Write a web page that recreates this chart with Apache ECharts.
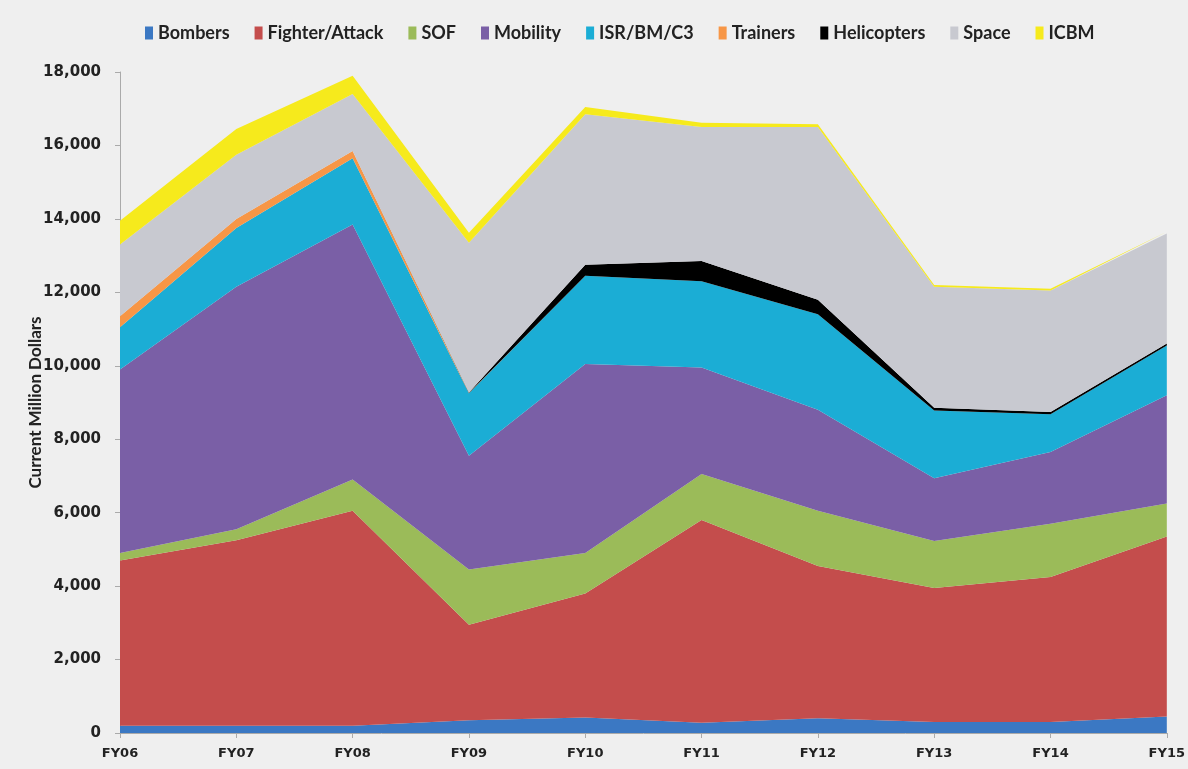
<!DOCTYPE html>
<html>
<head>
<meta charset="utf-8">
<script src="https://cdn.jsdelivr.net/npm/echarts@6/dist/echarts.min.js"></script>
<style>
html,body{margin:0;padding:0;background:#efefef;}
#chart{width:1188px;height:769px;}
</style>
</head>
<body>
<div id="chart"></div>
<script>
const categories = ['FY06','FY07','FY08','FY09','FY10','FY11','FY12','FY13','FY14','FY15'];
const bombers     = [200, 200, 200, 350, 420, 280, 400, 300, 300, 450];
const fighter     = [4500, 5050, 5850, 2600, 3380, 5520, 4150, 3650, 3950, 4900];
const sof         = [200, 300, 850, 1500, 1100, 1250, 1500, 1280, 1450, 900];
const mobility    = [5000, 6600, 6950, 3100, 5150, 2900, 2750, 1710, 1950, 2950];
const isr         = [1150, 1600, 1800, 1700, 2400, 2350, 2600, 1840, 1030, 1350];
const trainers    = [300, 250, 200, 10, 0, 0, 0, 0, 0, 0];
const helicopters = [0, 0, 0, 10, 300, 550, 400, 80, 60, 60];
const space       = [1950, 1750, 1550, 4080, 4100, 3650, 4700, 3290, 3310, 2990];
const icbm        = [650, 700, 500, 270, 200, 120, 80, 50, 50, 50];
const yTicks = {min: 0, max: 18000, interval: 2000};

const seriesDefs = [
  ['Bombers', bombers, '#3b78c3'],
  ['Fighter/Attack', fighter, '#c44d4c'],
  ['SOF', sof, '#9bbb59'],
  ['Mobility', mobility, '#7a5fa6'],
  ['ISR/BM/C3', isr, '#1badd5'],
  ['Trainers', trainers, '#f79646'],
  ['Helicopters', helicopters, '#000000'],
  ['Space', space, '#c8c9d0'],
  ['ICBM', icbm, '#f6ea1c']
];

const chart = echarts.init(document.getElementById('chart'), null, {renderer: 'canvas'});
chart.setOption({
  backgroundColor: '#efefef',
  animation: false,
  color: seriesDefs.map(d => d[2]),
  legend: {
    top: 19,
    left: 140,
    icon: 'rect',
    itemWidth: 8,
    itemHeight: 13,
    itemGap: 25,
    textStyle: {fontFamily: 'Lato', fontWeight: 'bold', fontSize: 18, color: '#222'},
    data: seriesDefs.map(d => d[0])
  },
  grid: {left: 120, right: 18, top: 72, bottom: 36, containLabel: false},
  xAxis: {
    type: 'category',
    data: categories,
    boundaryGap: false,
    axisLine: {show: true, lineStyle: {color: '#aaa', width: 1}},
    axisTick: {show: true, alignWithLabel: true, lineStyle: {color: '#aaa'}},
    axisLabel: {fontFamily: 'DejaVu Sans', fontWeight: 'bold', fontSize: 13, color: '#222', margin: 14},
    splitLine: {show: false}
  },
  yAxis: {
    type: 'value',
    min: yTicks.min,
    max: yTicks.max,
    interval: yTicks.interval,
    name: 'Current Million Dollars',
    nameLocation: 'middle',
    nameGap: 76,
    nameMoveOverlap: false,
    nameTextStyle: {fontFamily: 'Lato', fontWeight: 'bold', fontSize: 17, color: '#222'},
    axisLine: {show: true, lineStyle: {color: '#aaa', width: 1}},
    axisTick: {show: true, lineStyle: {color: '#aaa'}},
    splitLine: {show: false},
    axisLabel: {
      fontFamily: 'DejaVu Sans', fontWeight: 'bold', fontSize: 15, color: '#222', margin: 19,
      formatter: v => v.toLocaleString('en-US')
    }
  },
  series: seriesDefs.map(d => ({
    name: d[0],
    type: 'line',
    stack: 'total',
    data: d[1],
    symbol: 'none',
    showSymbol: false,
    lineStyle: {width: 0},
    areaStyle: {color: d[2], opacity: 1},
    itemStyle: {color: d[2]},
    emphasis: {disabled: true}
  }))
});
</script>
</body>
</html>
